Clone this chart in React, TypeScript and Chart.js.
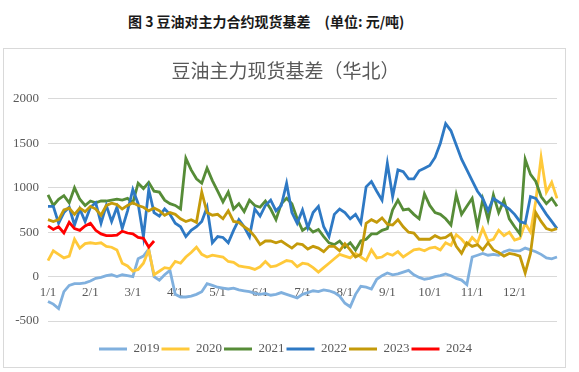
import React, { useEffect, useRef } from 'react';
import { Chart, registerables } from 'chart.js';

Chart.register(...registerables);

// Month tick labels (x axis), 8 sample slots per month
const MONTH_TICKS = ['1/1', '2/1', '3/1', '4/1', '5/1', '6/1', '7/1', '8/1', '9/1', '10/1', '11/1', '12/1'];
const SLOTS_PER_MONTH = 8;
const SLOT_COUNT = 97;

const Y_MIN = -500;
const Y_MAX = 2000;
const Y_STEP = 500;

const SERIES_NAMES = ['2019', '2020', '2021', '2022', '2023', '2024'];
const SERIES_COLORS = ['#80B0DE', '#FFC93A', '#568C37', '#2E79C4', '#C49A0A', '#FF0000'];

const V2019 = [
  -280, -310, -360, -170, -100, -80, -80, -70, -50, -20, -10, 10, 20, 0, 20, 10,
  0, 200, 230, 310, 0, -40, 20, 70, -200, -230, -230, -220, -200, -170, -80, -100,
  -120, -130, -140, -130, -150, -160, -170, -190, -200, -190, -210, -200, -180, -200, -220, -240,
  -200, -180, -160, -170, -150, -160, -180, -220, -300, -340, -200, -110, -120, -140, -30, 10,
  40, 20, 30, 50, 70, 20, -10, -30, -20, 0, 10, 30, 10, -20, -40, -90,
  220, 240, 260, 240, 250, 240, 280, 300, 290, 290, 320, 300, 280, 250, 210, 200,
  220,
];

const V2020 = [
  180, 290, 250, 210, 230, 420, 320, 370, 380, 370, 380, 340, 330, 300, 150, 120,
  60, 80, 150, 300, 20, 60, 100, 90, 170, 150, 220, 270, 330, 250, 220, 240,
  230, 220, 170, 160, 120, 110, 100, 80, 110, 170, 110, 120, 150, 180, 170, 110,
  150, 140, 100, 50, 100, 150, 200, 250, 230, 210, 260, 220, 180, 300, 210, 220,
  260, 240, 280, 220, 260, 300, 310, 290, 320, 330, 300, 380, 350, 470, 420, 350,
  440, 380, 540, 400, 420, 520, 460, 500, 410, 430, 600, 500, 850, 1340, 950, 1060,
  880,
];

const V2021 = [
  920, 800, 870, 910, 830, 1000, 870, 800, 850, 830, 850, 850, 860, 870, 860, 880,
  830, 1050, 990, 1060, 960, 950, 860, 820, 800, 760, 1330, 1200, 1100, 1050, 1220, 1080,
  960, 840, 950, 760, 820, 730, 860, 800, 780, 850, 760, 640, 820, 880, 820, 650,
  520, 560, 500, 530, 450, 380, 360, 400, 330, 380, 300, 400, 420, 480, 480, 520,
  540, 750, 860, 750, 760, 700, 650, 930, 800, 720, 700, 650, 580, 920, 700, 790,
  880, 560, 870, 640, 920, 720, 860, 650, 560, 480, 1320, 1150, 1070, 900, 820, 880,
  790,
];

const V2022 = [
  790, 790, 600, 720, 780, 580, 760, 620, 780, 830, 600, 800, 620, 780, 540, 740,
  980, 820, 450, 980, 720, 680, 760, 700, 600, 560, 450, 520, 560, 620, 780, 380,
  450, 440, 380, 520, 640, 560, 450, 760, 680, 800, 860, 740, 800, 1050, 720, 600,
  750, 550, 720, 790, 560, 450, 700, 760, 720, 650, 700, 600, 1010, 1070, 960, 860,
  1275, 900, 1200, 1180, 1100, 1100, 1190, 1220, 1250, 1340, 1500, 1720, 1640, 1480, 1320, 1200,
  1080, 960, 880, 740, 880, 840, 800, 760, 700, 620, 600, 900, 880, 790, 700, 620,
  540,
];

const V2023 = [
  640, 620, 640, 750, 770, 700, 770, 730, 790, 760, 690, 800, 825, 810, 760, 800,
  830, 800, 780, 740, 770, 740, 690, 720, 700, 650, 620, 640, 610, 950, 720, 690,
  700, 650, 740, 620, 610, 560, 520, 450, 360, 400, 400, 380, 400, 360, 320, 370,
  360, 310, 340, 320, 280, 340, 340, 290, 370, 300, 220, 250, 600, 640, 610, 660,
  590, 580, 640, 560, 500, 490, 420, 420, 420, 460, 430, 440, 480, 340, 260, 380,
  340, 360, 300, 380, 300, 270, 230, 260, 250, 230, 40, 260, 720, 620, 540, 520,
  540,
];

const V2024 = [
  570, 530, 560, 490, 610, 540, 520, 570, 600, 520, 480, 460, 460, 465, 510, 490,
  480, 440, 430, 330, 400,
];

const SERIES_VALUES = [V2019, V2020, V2021, V2022, V2023, V2024];

const CHART_TITLE = '豆油主力现货基差（华北）';
const CAPTION = '图 3 豆油对主力合约现货基差\u3000(单位: 元/吨)';

const SERIF = "'Liberation Serif', 'Times New Roman', serif";
const CJK = "'Noto Sans CJK SC', 'Noto Sans', sans-serif";
const TEXT_COLOR = '#595959';

const SLOT_LABELS = Array.from({ length: SLOT_COUNT }, (_, i) =>
  i % SLOTS_PER_MONTH === 0 && i / SLOTS_PER_MONTH < MONTH_TICKS.length ? MONTH_TICKS[i / SLOTS_PER_MONTH] : ''
);

export default function App() {
  const canvasRef = useRef<HTMLCanvasElement | null>(null);

  useEffect(() => {
    if (!canvasRef.current) return;
    const chart = new Chart(canvasRef.current, {
      type: 'line',
      data: {
        labels: SLOT_LABELS,
        datasets: SERIES_NAMES.map((name, i) => ({
          label: name,
          data: SERIES_VALUES[i],
          borderColor: SERIES_COLORS[i],
          backgroundColor: SERIES_COLORS[i],
          borderWidth: 2.8,
          pointRadius: 0,
          tension: 0,
          fill: false,
          order: SERIES_NAMES.length - 1 - i,
        })),
      },
      options: {
        responsive: false,
        maintainAspectRatio: false,
        animation: false,
        events: [],
        layout: { padding: { left: 4, right: 2, top: 0, bottom: 1.5 } },
        plugins: {
          tooltip: { enabled: false },
          title: {
            display: true,
            text: CHART_TITLE,
            color: TEXT_COLOR,
            font: { family: CJK, size: 19, weight: 'normal' },
            padding: { top: 10, bottom: 17 },
          },
          legend: {
            position: 'bottom',
            labels: {
              boxWidth: 28,
              boxHeight: 3,
              padding: 2,
              color: TEXT_COLOR,
              font: { family: SERIF, size: 13 },
              generateLabels: (c: any) =>
                c.data.datasets.map((ds: any, i: number) => ({
                  text: ds.label,
                  fillStyle: ds.borderColor,
                  strokeStyle: ds.borderColor,
                  lineWidth: 0,
                  hidden: false,
                  datasetIndex: i,
                  fontColor: TEXT_COLOR,
                })),
            },
          },
        },
        scales: {
          x: {
            type: 'category',
            position: { y: 0 },
            grid: { display: false, drawTicks: false },
            border: { display: false },
            ticks: {
              autoSkip: false,
              maxRotation: 0,
              minRotation: 0,
              padding: 8,
              color: TEXT_COLOR,
              font: { family: SERIF, size: 13 },
            },
          },
          xPad: {
            type: 'linear',
            axis: 'x',
            position: 'bottom',
            display: true,
            grid: { display: false, drawTicks: false },
            border: { display: false },
            ticks: { display: false },
            afterFit: (s: any) => {
              s.height = 19.5;
            },
          },
          y: {
            min: Y_MIN,
            max: Y_MAX,
            ticks: {
              stepSize: Y_STEP,
              padding: 9,
              color: TEXT_COLOR,
              font: { family: SERIF, size: 13 },
              callback: (v: any) => String(v),
            },
            grid: { color: '#d9d9d9', lineWidth: 1, drawTicks: false },
            border: { display: false },
            afterFit: (s: any) => {
              s.width = 40;
            },
          },
        },
      } as any,
    });
    return () => chart.destroy();
  }, []);

  return (
    <div style={{ position: 'fixed', left: 0, top: 0, width: 579, height: 372, background: '#fff' }}>
      <div
        style={{
          position: 'absolute',
          left: 128,
          top: 11,
          whiteSpace: 'pre',
          fontFamily: CJK,
          fontWeight: 'bold',
          fontSize: 14,
          lineHeight: '20px',
          color: '#1a1a1a',
        }}
      >
        {CAPTION}
      </div>
      <div
        style={{
          position: 'absolute',
          left: 3,
          top: 48,
          width: 561,
          height: 318,
          border: '1px solid #d9d9d9',
        }}
      >
        <canvas ref={canvasRef} width={561} height={318} style={{ display: 'block' }} />
      </div>
    </div>
  );
}
